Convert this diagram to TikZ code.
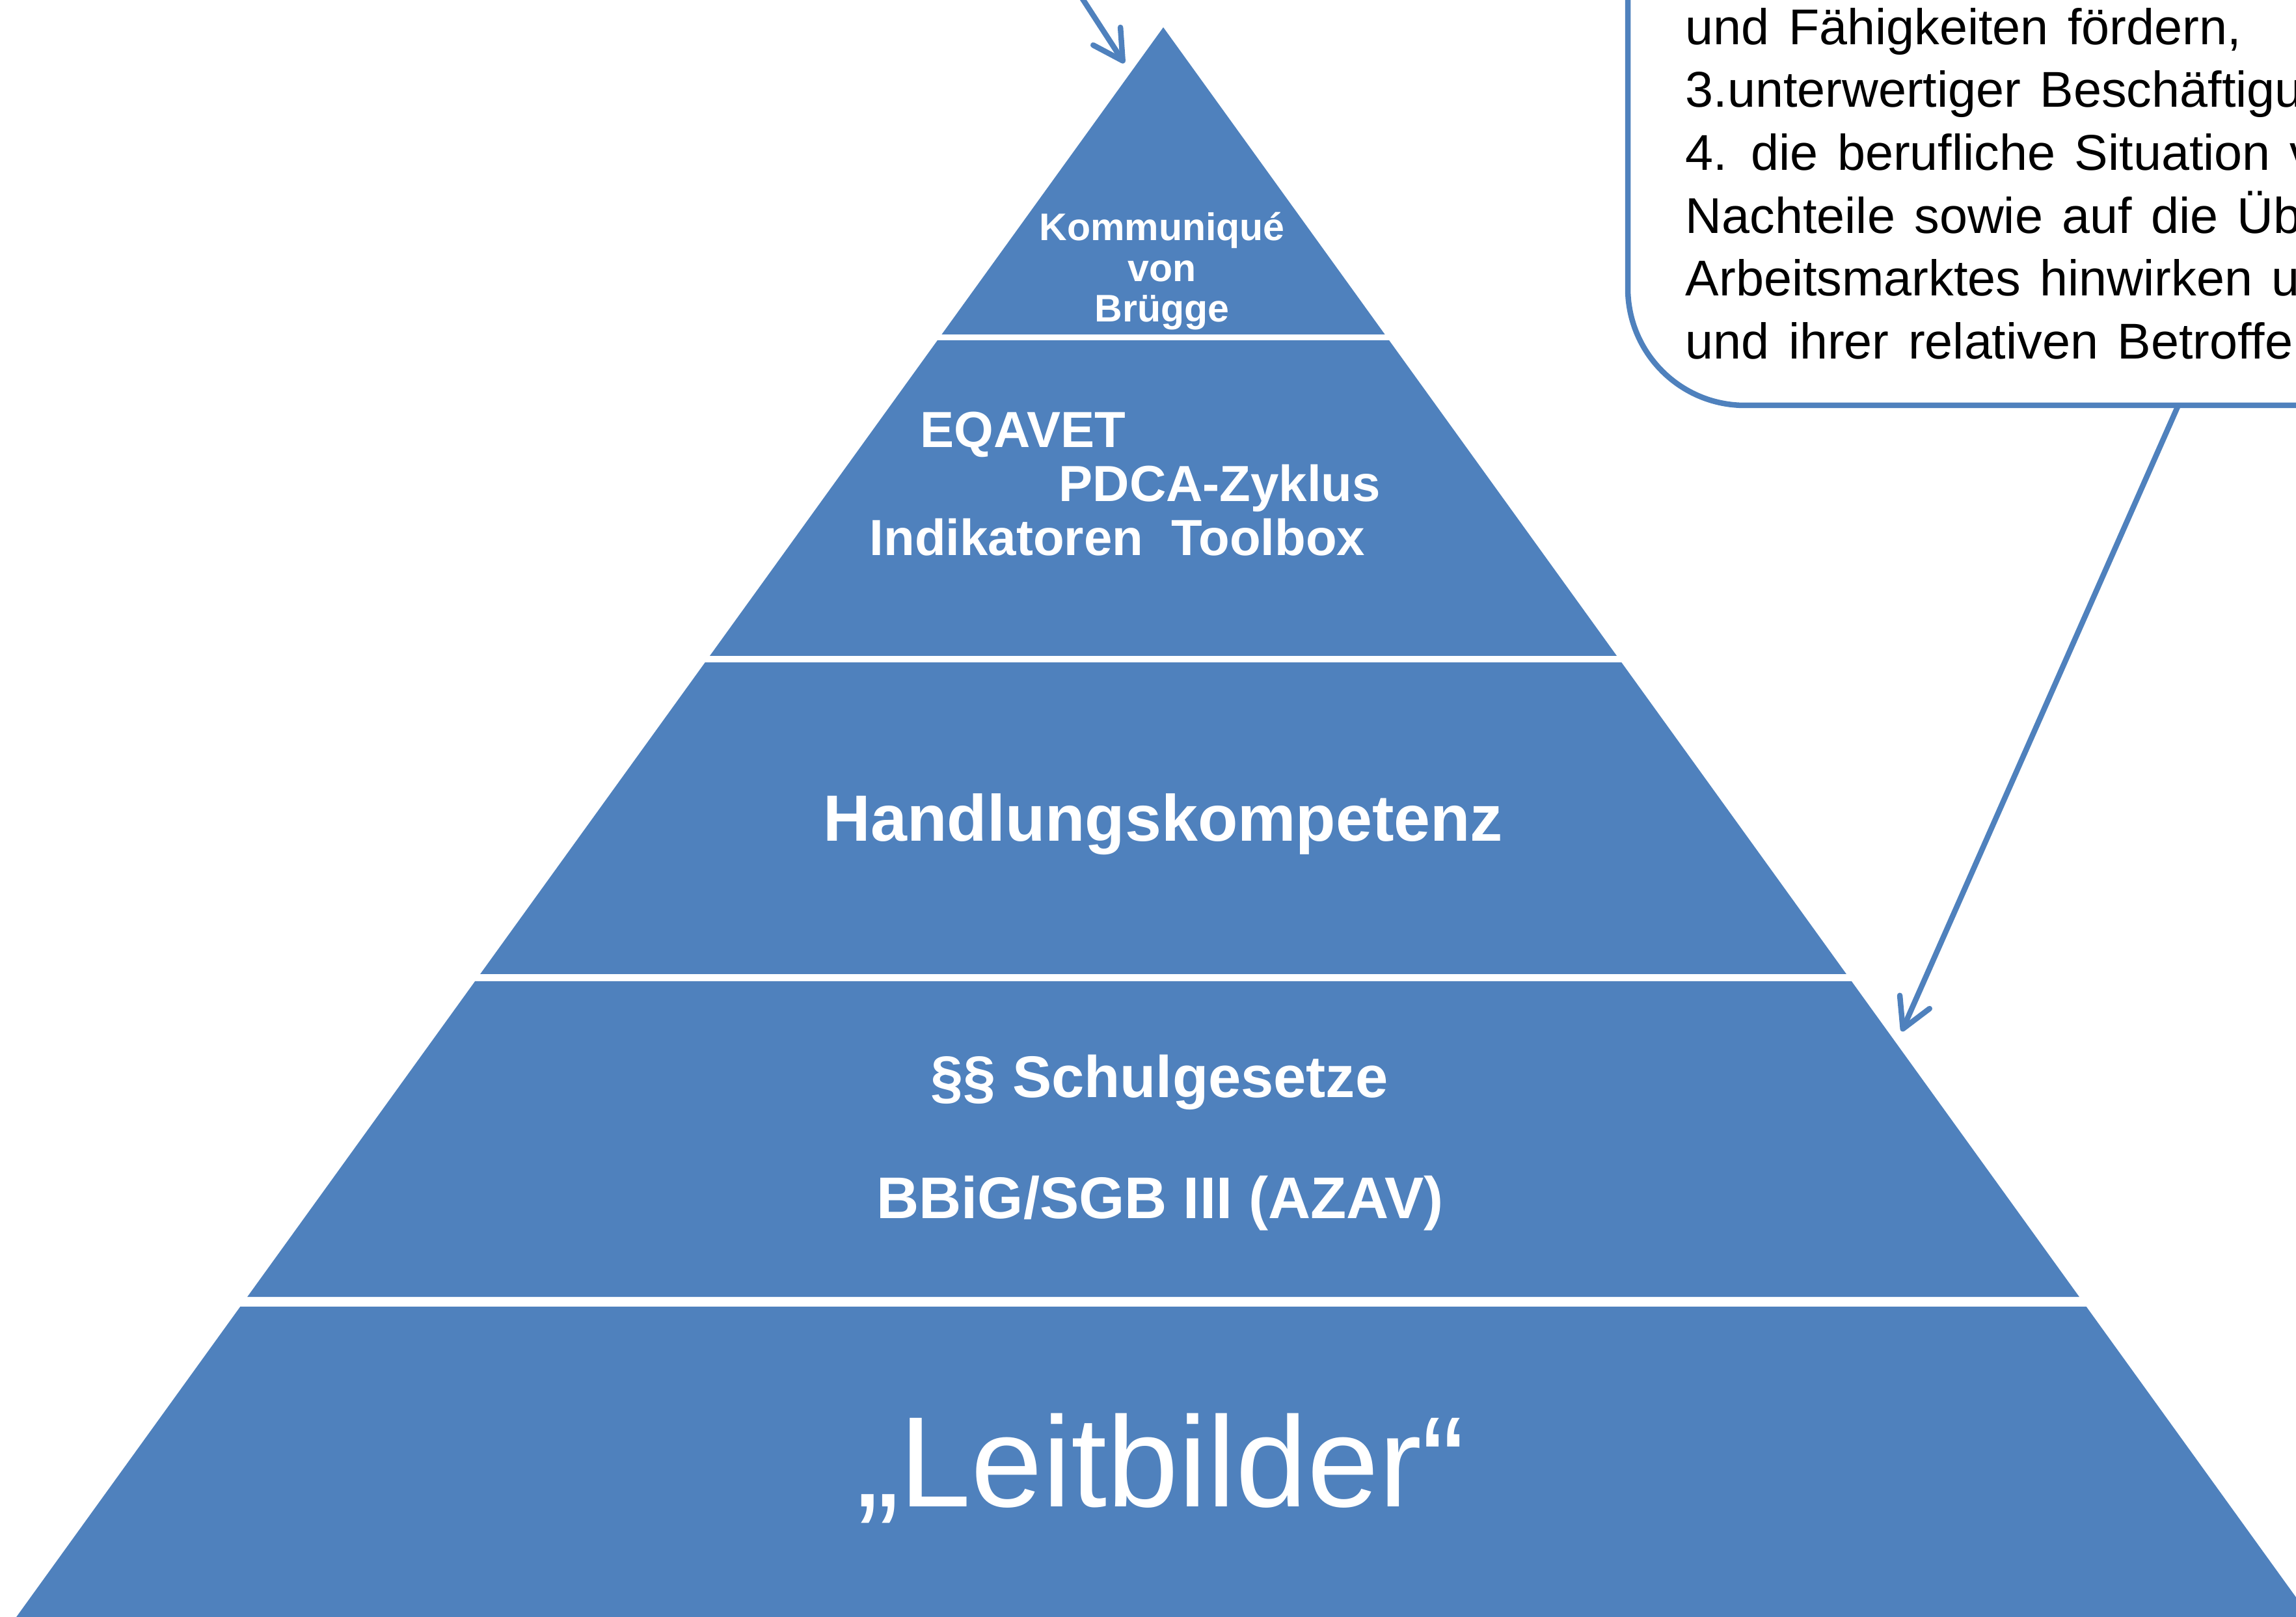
\documentclass[tikz,border=0pt]{standalone}
\usepackage{fontspec}
\setmainfont{Liberation Sans}
\usetikzlibrary{arrows.meta}

\definecolor{pyrblue}{HTML}{4F81BD}

\begin{document}
\begin{tikzpicture}
	% Setup the styles for the tiers and the callout
	\tikzset{tier label/.style={text=white, inner sep=0pt, anchor=base},
		callout box/.style={draw=pyrblue, line width=0.085cm, rounded corners=1.8cm,
			outer sep=0pt, inner sep=0pt, anchor=south west},
		callout text/.style={align=left, inner sep=0pt, anchor=south west,
			font={\fontsize{22}{27.5}\selectfont\spaceskip 0.38em\relax}},
		pointer/.style={draw=pyrblue, line width=0.085cm, line cap=round,
			-{Straight Barb[length=4.5mm, width=5mm, round]}}}
	
	\useasboundingbox (0,0) rectangle (35.29,24.84);
	\clip (0,0) rectangle (35.29,24.84);
	
	% pyramid, five tiers
	\foreach \ta/\tb in {24.42/19.70, 19.61/14.76, 14.66/9.87, 9.76/4.91, 4.76/-0.5}
		\fill[pyrblue] ({17.88-0.7216*(24.42-\ta)},\ta) -- ({17.88+0.7216*(24.42-\ta)},\ta)
			-- ({17.88+0.7216*(24.42-\tb)},\tb) -- ({17.88-0.7216*(24.42-\tb)},\tb) -- cycle;
	
	\node[tier label, font=\bfseries\fontsize{16.8}{17}\selectfont] (kom)  at (17.86,21.14) {Kommuniqué};
	\node[tier label, font=\bfseries\fontsize{16.8}{17}\selectfont] (von)  at (17.86,20.515) {von};
	\node[tier label, font=\bfseries\fontsize{16.8}{17}\selectfont] (brug) at (17.86,19.89) {Brügge};
	
	\node[tier label, anchor=base west, font=\bfseries\fontsize{22.2}{24}\selectfont] (eqavet) at (14.14,17.96) {EQAVET};
	\node[tier label, anchor=base west, font=\bfseries\fontsize{22.2}{24}\selectfont] (pdca)   at (16.27,17.13) {PDCA-Zyklus};
	\node[tier label, anchor=base west, font=\bfseries\fontsize{22.2}{24}\selectfont] (indik)  at (13.36,16.30) {Indikatoren\ \ Toolbox};
	
	\node[tier label, font=\bfseries\fontsize{28.6}{30}\selectfont] (handl) at (17.88,11.91) {Handlungskompetenz};
	
	\node[tier label, font=\bfseries\fontsize{25.7}{27}\selectfont] (schul) at (17.82,7.98) {§§ Schulgesetze};
	\node[tier label, font=\bfseries\fontsize{25.7}{27}\selectfont] (bbig)  at (17.83,6.12) {BBiG/SGB III (AZAV)};
	
	\node[tier label, font=\fontsize{56.3}{60}\selectfont] (leit) at (17.84,1.69) {„Leitbilder“};
	
	% callout box, cut by the page edge
	\node[callout box, minimum width=14cm, minimum height=9cm] (sgbbox) at (25.02,18.61) {};
	\node[callout text] (sgbtext) at (25.90,19.31) {und Fähigkeiten fördern,\\
		3.unterwertiger Beschäftigung\\
		4. die berufliche Situation von\\
		Nachteile sowie auf die Überwindung\\
		Arbeitsmarktes hinwirken und\\
		und ihrer relativen Betroffenheit};
	
	\coordinate (offtop)   at (16.00,25.84);
	\coordinate (apexleft) at (17.28,23.87);
	\coordinate (tierfour) at (29.23,8.99);
	
	\draw[pointer] (offtop) -- (apexleft);
	\draw[pointer] ([xshift=8.46cm]sgbbox.south west) -- (tierfour);
	
\end{tikzpicture}
\end{document}
